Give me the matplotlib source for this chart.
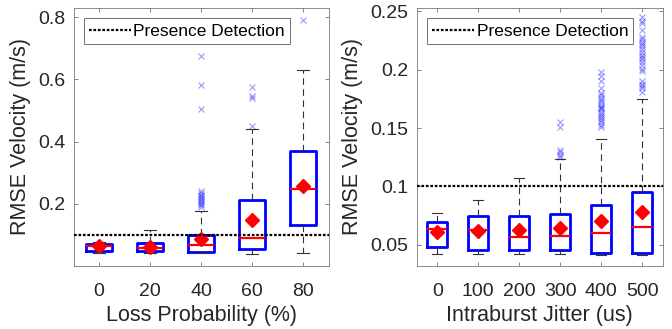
import matplotlib
matplotlib.use("Agg")
import matplotlib.pyplot as plt

plt.rcParams['font.family'] = ['Liberation Sans', 'DejaVu Sans']

# ---------------- data: left panel (Loss Probability) ----------------
loss_labels = ['0', '20', '40', '60', '80']
loss_q1 = [0.048, 0.047, 0.045, 0.056, 0.131]
loss_med = [0.065, 0.059, 0.067, 0.090, 0.248]
loss_q3 = [0.070, 0.075, 0.100, 0.211, 0.371]
loss_lo = [0.041, 0.041, 0.041, 0.037, 0.041]
loss_hi = [0.078, 0.115, 0.176, 0.441, 0.632]
loss_mean = [0.063, 0.062, 0.086, 0.149, 0.256]
loss_fliers = [
    [],
    [],
    [0.190, 0.195, 0.200, 0.205, 0.210, 0.215, 0.220, 0.225, 0.230, 0.235, 0.240,
     0.505, 0.583, 0.675],
    [0.450, 0.540, 0.548, 0.577],
    [0.790],
]

# ---------------- data: right panel (Intraburst Jitter) ----------------
jit_labels = ['0', '100', '200', '300', '400', '500']
jit_q1 = [0.0481, 0.0453, 0.0450, 0.0450, 0.0430, 0.0430]
jit_med = [0.0634, 0.0625, 0.0567, 0.0576, 0.0600, 0.0653]
jit_q3 = [0.0697, 0.0743, 0.0743, 0.0763, 0.0840, 0.0953]
jit_lo = [0.0418, 0.0416, 0.0416, 0.0416, 0.0414, 0.0410]
jit_hi = [0.0774, 0.0880, 0.1067, 0.1235, 0.1410, 0.1750]
jit_mean = [0.0605, 0.0616, 0.0622, 0.0645, 0.0705, 0.0778]
jit_fliers = [
    [],
    [],
    [],
    [0.125, 0.127, 0.129, 0.131, 0.151, 0.155],
    [0.151, 0.153, 0.155, 0.157, 0.159, 0.160, 0.162, 0.164, 0.166, 0.167, 0.168,
     0.170, 0.172, 0.174, 0.176, 0.178, 0.180, 0.184, 0.190, 0.195, 0.198],
    [0.181, 0.184, 0.186, 0.188, 0.190, 0.199, 0.201, 0.204, 0.207, 0.209, 0.211,
     0.213, 0.215, 0.218, 0.220, 0.222, 0.224, 0.226, 0.228, 0.234, 0.240, 0.242,
     0.245],
]

threshold = 0.1
legend_label = 'Presence Detection'

TXT = '#262626'


def make_stats(q1, med, q3, lo, hi, mean, fliers):
    stats = []
    for i in range(len(med)):
        stats.append(dict(q1=q1[i], med=med[i], q3=q3[i], whislo=lo[i],
                          whishi=hi[i], mean=mean[i], fliers=fliers[i]))
    return stats


def draw(ax, stats, labels, xlabel, ylim, yticks, yticklabels):
    ax.bxp(stats, positions=range(1, len(stats) + 1), widths=0.5,
           showmeans=True, showfliers=True,
           boxprops=dict(color='#0000ff', linewidth=2.0),
           medianprops=dict(color='#ff0000', linewidth=1.6),
           whiskerprops=dict(color='#333333', linewidth=0.8, linestyle=(0, (6, 4))),
           capprops=dict(color='#333333', linewidth=0.8),
           capwidths=0.25,
           flierprops=dict(marker='x', markeredgecolor='#0000ff', markersize=5,
                           alpha=0.4, markeredgewidth=0.8, linestyle='none'),
           meanprops=dict(marker='D', markerfacecolor='#ff0000',
                          markeredgecolor='#ff0000', markersize=7.5))
    ax.axhline(threshold, color='black', linestyle=(0, (1.2, 0.8)), linewidth=1.6,
               label=legend_label, zorder=5)
    ax.set_xlim(0.5, len(stats) + 0.5)
    ax.set_ylim(*ylim)
    ax.set_xticks(range(1, len(stats) + 1))
    ax.set_xticklabels(labels)
    ax.set_yticks(yticks)
    ax.set_yticklabels(yticklabels)
    ax.tick_params(direction='in', length=3, width=0.5, colors='#555555',
                   labelcolor=TXT, labelsize=14, top=True, right=True)
    ax.tick_params(axis='x', pad=12)
    ax.tick_params(axis='y', pad=6)
    for s in ax.spines.values():
        s.set_color('#777777')
        s.set_linewidth(0.6)
    ax.set_xlabel(xlabel, fontsize=15.5, color=TXT, labelpad=4)
    ax.set_ylabel('RMSE Velocity (m/s)', fontsize=15.5, color=TXT, labelpad=5)
    leg = ax.legend(loc='upper left', fontsize=12.5, frameon=True, fancybox=False,
                    handlelength=2.4, handletextpad=0.15, borderpad=0.3,
                    borderaxespad=0.6)
    leg.get_frame().set_edgecolor('#333333')
    leg.get_frame().set_linewidth(0.6)
    for t in leg.get_texts():
        t.set_color('black')


fig = plt.figure(figsize=(6.72, 3.29), dpi=100)
ax1 = fig.add_axes([73.5 / 672, 1 - 266 / 329, 255 / 672, 258 / 329])
ax2 = fig.add_axes([416.7 / 672, 1 - 266 / 329, 246 / 672, 258 / 329])

draw(ax1, make_stats(loss_q1, loss_med, loss_q3, loss_lo, loss_hi, loss_mean, loss_fliers),
     loss_labels, 'Loss Probability (%)', (0.0, 0.83),
     [0.2, 0.4, 0.6, 0.8], ['0.2', '0.4', '0.6', '0.8'])
draw(ax2, make_stats(jit_q1, jit_med, jit_q3, jit_lo, jit_hi, jit_mean, jit_fliers),
     jit_labels, 'Intraburst Jitter (us)', (0.0316, 0.253),
     [0.05, 0.1, 0.15, 0.2, 0.25], ['0.05', '0.1', '0.15', '0.2', '0.25'])

fig.savefig('out.png', dpi=100)
